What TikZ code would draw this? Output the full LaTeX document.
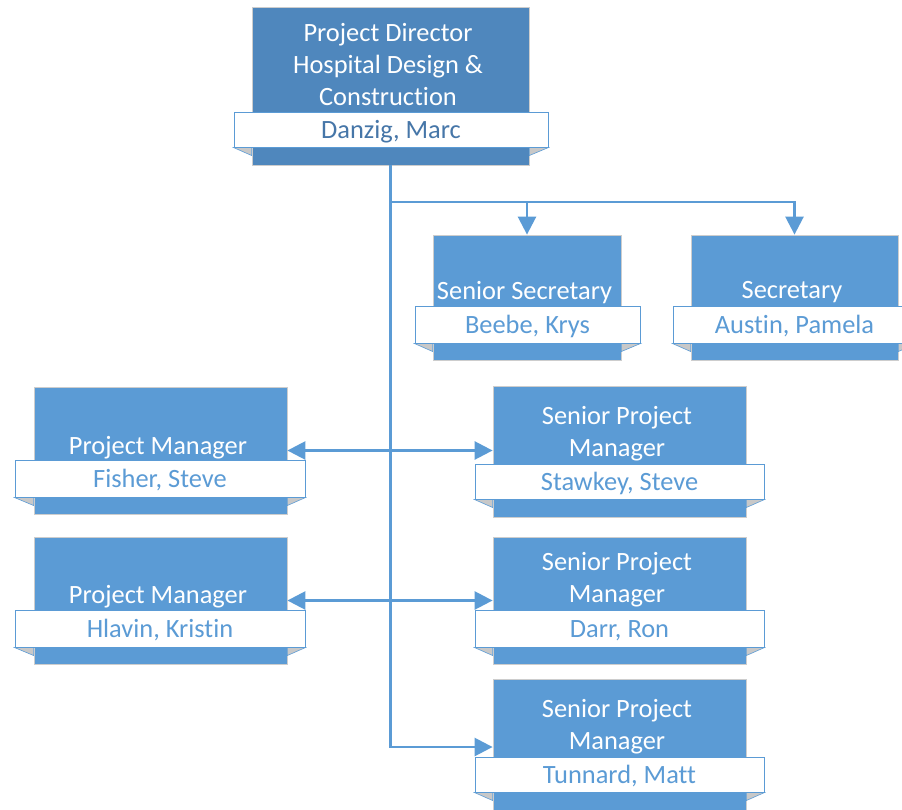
\documentclass[tikz,border=0pt]{standalone}
\usepackage{fontspec}
\setmainfont{Carlito}[Ligatures=NoCommon]
\usetikzlibrary{arrows.meta}
\definecolor{unitblue}{RGB}{91,155,213}
\definecolor{headblue}{RGB}{79,135,189}
\definecolor{nameblue}{RGB}{70,118,168}
\definecolor{edgegray}{RGB}{205,205,205}
\definecolor{foldgray}{RGB}{200,200,200}
\tikzstyle{unit} = [draw=edgegray, fill=unitblue, line width=.8pt, inner sep=0pt]
\tikzstyle{head} = [unit, fill=headblue]
\tikzstyle{title} = [text=white, align=center, inner sep=0pt, xshift=-2.5pt, font=\fontsize{26.4}{32}\selectfont]
\tikzstyle{nametab} = [draw=unitblue, fill=white, line width=1pt, inner sep=0pt, text height=20pt, text depth=2.4pt, text=unitblue, font=\fontsize{26.4}{32}\selectfont]
\tikzstyle{fold} = [fill=foldgray, draw=unitblue, line width=.6pt]
\tikzstyle{link} = [draw=unitblue, line width=2.6pt]

\begin{document}
\begin{tikzpicture}[x=1pt, y=-1pt, >={Triangle[length=18pt,width=18pt]}]
    \useasboundingbox (0,0) rectangle (902,809);
    % director
    \node[head, minimum width=277pt, minimum height=158pt] (dir) at (390.5,86) {};
    \node[title] at (390.5,64.5) {Project Director\\Hospital Design \&\\Construction};
    \node[nametab, minimum width=314pt, minimum height=35pt, text=nameblue] (dirname) at (391,129.5) {Danzig, Marc};
    % secretaries
    \node[unit, minimum width=188pt, minimum height=125pt] (sensec) at (527,297.5) {};
    \node[title] at (527,292.5) {Senior Secretary};
    \node[nametab, minimum width=225pt, minimum height=37pt] (sensecname) at (527.5,324.5) {Beebe, Krys};
    \node[unit, minimum width=207pt, minimum height=125pt] (sec) at (794.5,297.5) {};
    \node[title] at (794.5,292.5) {Secretary};
    \node[nametab, minimum width=243pt, minimum height=37pt] (secname) at (794.5,324.5) {Austin, Pamela};
    % project managers
    \node[unit, minimum width=253pt, minimum height=127pt] (fisher) at (160.5,450.5) {};
    \node[title] at (160.5,447.5) {Project Manager};
    \node[nametab, minimum width=290pt, minimum height=37pt] (fishername) at (160,478.5) {Fisher, Steve};
    \node[unit, minimum width=253pt, minimum height=127pt] (hlavin) at (160.5,600.5) {};
    \node[title] at (160.5,596.5) {Project Manager};
    \node[nametab, minimum width=290pt, minimum height=37pt] (hlavinname) at (160,628.5) {Hlavin, Kristin};
    % senior project managers
    \node[unit, minimum width=253pt, minimum height=131pt] (stawkey) at (619.5,451.5) {};
    \node[title] at (619.5,434) {Senior Project\\Manager};
    \node[nametab, minimum width=289pt, minimum height=35pt] (stawkeyname) at (619.5,481.5) {Stawkey, Steve};
    \node[unit, minimum width=253pt, minimum height=127pt] (darr) at (619.5,600.5) {};
    \node[title] at (619.5,580) {Senior Project\\Manager};
    \node[nametab, minimum width=289pt, minimum height=37pt] (darrname) at (619.5,628.5) {Darr, Ron};
    \node[unit, minimum width=253pt, minimum height=136pt] (tunnard) at (619.5,747) {};
    \node[title] at (619.5,727) {Senior Project\\Manager};
    \node[nametab, minimum width=289pt, minimum height=35pt] (tunnardname) at (619.5,774.5) {Tunnard, Matt};
    % folds under the name tabs
    \filldraw[fold] (dirname.south west) -- (dir.west |- dirname.south) -- ++(0,8) -- cycle
        (dirname.south east) -- (dir.east |- dirname.south) -- ++(0,8) -- cycle;
    \filldraw[fold] (sensecname.south west) -- (sensec.west |- sensecname.south) -- ++(0,8) -- cycle
        (sensecname.south east) -- (sensec.east |- sensecname.south) -- ++(0,8) -- cycle;
    \filldraw[fold] (secname.south west) -- (sec.west |- secname.south) -- ++(0,8) -- cycle
        (secname.south east) -- (sec.east |- secname.south) -- ++(0,8) -- cycle;
    \filldraw[fold] (fishername.south west) -- (fisher.west |- fishername.south) -- ++(0,8) -- cycle
        (fishername.south east) -- (fisher.east |- fishername.south) -- ++(0,8) -- cycle;
    \filldraw[fold] (hlavinname.south west) -- (hlavin.west |- hlavinname.south) -- ++(0,8) -- cycle
        (hlavinname.south east) -- (hlavin.east |- hlavinname.south) -- ++(0,8) -- cycle;
    \filldraw[fold] (stawkeyname.south west) -- (stawkey.west |- stawkeyname.south) -- ++(0,8) -- cycle
        (stawkeyname.south east) -- (stawkey.east |- stawkeyname.south) -- ++(0,8) -- cycle;
    \filldraw[fold] (darrname.south west) -- (darr.west |- darrname.south) -- ++(0,8) -- cycle
        (darrname.south east) -- (darr.east |- darrname.south) -- ++(0,8) -- cycle;
    \filldraw[fold] (tunnardname.south west) -- (tunnard.west |- tunnardname.south) -- ++(0,8) -- cycle
        (tunnardname.south east) -- (tunnard.east |- tunnardname.south) -- ++(0,8) -- cycle;
    % connectors
    \coordinate (split) at (dir.south |- 0,202);
    \draw[link,->] (dir.south) |- (tunnard.west);
    \draw[link,->] (split) -| (sensec.north);
    \draw[link,->] (split) -| (sec.north);
    \draw[link,<->] (fisher.east) -- (fisher.east -| stawkey.west);
    \draw[link,<->] (hlavin) -- (darr);
\end{tikzpicture}
\end{document}
